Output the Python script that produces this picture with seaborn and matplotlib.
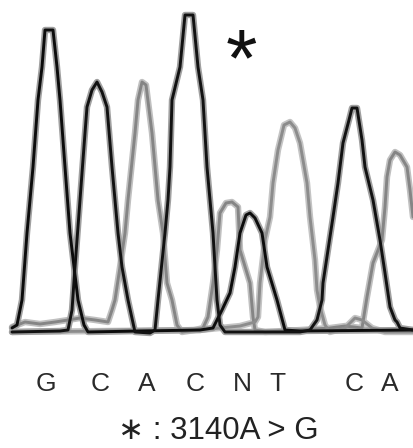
import numpy as np
import pandas as pd
import matplotlib
matplotlib.use("Agg")
import matplotlib.pyplot as plt
import seaborn as sns

# Trace vertices per dye channel: scan position and signal intensity.
g_scan = [12, 17, 22, 27, 33, 38, 42, 45, 53, 57, 60, 65, 70, 78, 84, 88, 140, 200, 213, 222,
          230, 235, 240, 246, 250, 255, 262, 267, 277, 285, 300, 413]
g_sig = [2, 5, 30, 97, 163, 230, 263, 300, 300, 263, 230, 163, 97, 30, 5, -2, -1, 0, 2, 20,
         37, 63, 97, 115, 117, 112, 97, 63, 30, 0, -1, 0]

c_scan = [12, 60, 68, 72, 75, 80, 85, 87, 92, 97, 102, 107, 112, 118, 122, 128, 135, 150, 155,
          158, 165, 168, 170, 172, 180, 185, 193, 198, 203, 207, 210, 213, 215, 217, 220, 225,
          300, 310, 317, 322, 323, 328, 333, 338, 343, 349, 352, 357, 362, 365, 373, 380, 385,
          390, 395, 397, 400, 413]
c_sig = [-2, -1, 0, 20, 63, 130, 197, 223, 240, 248, 238, 223, 163, 97, 63, 30, -2, -3, 0,
         30, 97, 130, 163, 230, 263, 315, 315, 263, 230, 163, 130, 97, 63, 30, 5, -2,
         -2, 0, 10, 30, 47, 80, 113, 147, 187, 210, 222, 222, 190, 163, 130, 90, 57,
         23, 10, 8, 2, 0]

a_scan = [12, 25, 40, 55, 68, 80, 95, 108, 112, 115, 120, 125, 128, 135, 138, 142, 146, 152,
          158, 163, 167, 172, 177, 182, 195, 203, 208, 213, 217, 220, 226, 232, 238, 240, 250,
          253, 255, 265, 300, 330, 345, 362, 367, 373, 382, 385, 387, 390, 395, 400, 407, 410,
          413]
a_sig = [3, 8, 6, 8, 10, 12, 10, 8, 20, 30, 63, 97, 130, 197, 230, 248, 245, 197,
         130, 97, 47, 30, 5, -2, 0, 2, 13, 47, 80, 117, 127, 128, 123, 80, 47,
         13, 0, -2, 0, 2, 4, 2, 33, 67, 90, 123, 153, 170, 178, 175, 163, 140,
         113]

t_scan = [12, 200, 240, 255, 258, 260, 265, 270, 273, 278, 284, 290, 295, 300, 307, 310, 315,
          317, 320, 325, 330, 345, 355, 362, 372, 385, 413]
t_sig = [-2, 0, 4, 8, 13, 47, 90, 113, 147, 180, 205, 208, 202, 187, 147, 113, 70,
         40, 23, 5, -2, 2, 12, 10, 2, -2, -2]

bases = ["G", "C", "A", "C", "N", "T", "C", "A"]
base_pos = [46, 100, 147, 195, 242, 277, 354, 390]
mutation_label = "∗ : 3140A > G"
mutation_pos = 241

channels = {
    "G": (g_scan, g_sig),
    "C": (c_scan, c_sig),
    "A": (a_scan, a_sig),
    "T": (t_scan, t_sig),
}
frames = []
for name, (xs, ys) in channels.items():
    frames.append(pd.DataFrame({"scan": xs, "signal": ys, "dye": name,
                                "order": np.arange(len(xs))}))
traces = pd.concat(frames, ignore_index=True)

core_colors = {"G": "#0c0c0c", "C": "#121212", "A": "#858585", "T": "#8c8c8c"}
halo_colors = {"G": "#a0a0a0", "C": "#a0a0a0", "A": "#c0c0c0", "T": "#c4c4c4"}

sns.set_style("white")
plt.rcParams["font.family"] = ["Liberation Sans", "DejaVu Sans"]

fig = plt.figure(figsize=(4.13, 4.48), dpi=100)
ax = fig.add_axes([0, 0, 1, 1])

# gray channels underneath, dark channels on top
for dye in ["A", "T", "G", "C"]:
    d = traces[traces["dye"] == dye]
    sns.lineplot(data=d, x="scan", y="signal", sort=False, estimator=None,
                 color=halo_colors[dye], lw=4.6, ax=ax, legend=False,
                 solid_joinstyle="round", solid_capstyle="round")
for dye in ["A", "T", "G", "C"]:
    d = traces[traces["dye"] == dye]
    sns.lineplot(data=d, x="scan", y="signal", sort=False, estimator=None,
                 color=core_colors[dye], lw=2.1, ax=ax, legend=False,
                 solid_joinstyle="round", solid_capstyle="round")

ax.set_xlim(0, 413)
ax.set_ylim(-118, 330)
ax.axis("off")

# mutation marker above the heterozygous position
ax.text(mutation_pos, 266, "*", ha="center", va="center", fontsize=58,
        color="#111111")

# base calls
for b, x in zip(bases, base_pos):
    ax.text(x, -54, b, ha="center", va="center", fontsize=19, color="#2a2a2a")

ax.text(218, -101, mutation_label, ha="center", va="center", fontsize=22.5,
        color="#222222")

fig.savefig("out.png", dpi=100)
